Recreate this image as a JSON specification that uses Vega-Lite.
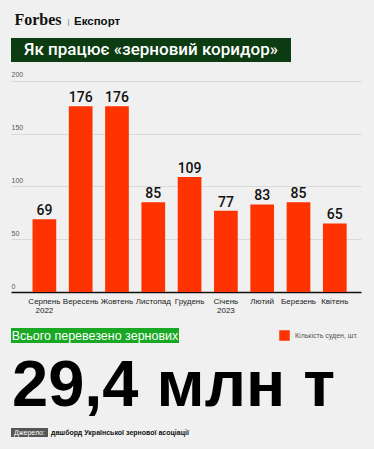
{
  "$schema": "https://vega.github.io/schema/vega-lite/v6.json",
  "background": "#f0f0f0",
  "padding": {"left": 11, "top": 0, "right": 13, "bottom": 12},
  "config": {"view": {"stroke": null}, "font": "Liberation Sans"},
  "spacing": 0,
  "bounds": "full",
  "align": "each",
  "vconcat": [
    {
      "spacing": 0, "bounds": "flush", "align": "each",
      "hconcat": [
        {"width": 54, "height": 38, "data": {"values": [{"t": "Forbes"}]},
         "mark": {"type": "text", "font": "Liberation Serif", "fontWeight": "bold", "fontSize": 16, "baseline": "alphabetic", "dy": 6.3, "color": "#111"},
         "encoding": {"text": {"field": "t"}}},
        {"width": 7, "height": 38, "data": {"values": [{"t": "|"}]},
         "mark": {"type": "text", "fontSize": 8, "baseline": "alphabetic", "dy": 4.5, "color": "#777"},
         "encoding": {"text": {"field": "t"}}},
        {"width": 4, "height": 38, "data": {"values": [{"t": "Експорт"}]},
         "mark": {"type": "text", "fontWeight": "bold", "fontSize": 11.5, "align": "left", "baseline": "alphabetic", "dy": 6.3, "color": "#111"},
         "encoding": {"text": {"field": "t"}}}
      ]
    },
    {
      "width": 280, "height": 24,
      "data": {"values": [{"t": "Як працює «зерновий коридор»"}]},
      "layer": [
        {"mark": {"type": "rect", "color": "#0d3b12"}, "encoding": {}},
        {"mark": {"type": "text", "font": "Roboto", "fontWeight": 500, "fontSize": 17, "baseline": "alphabetic", "dy": 4.7, "color": "#ffffff"},
         "encoding": {"text": {"field": "t"}}}
      ]
    },
    {
      "width": 350, "height": 230,
      "data": {"values": [
        {"month": "Серпень|2022", "count": 69, "series": "Кількість суден, шт."},
        {"month": "Вересень", "count": 176, "series": "Кількість суден, шт."},
        {"month": "Жовтень", "count": 176, "series": "Кількість суден, шт."},
        {"month": "Листопад", "count": 85, "series": "Кількість суден, шт."},
        {"month": "Грудень", "count": 109, "series": "Кількість суден, шт."},
        {"month": "Січень|2023", "count": 77, "series": "Кількість суден, шт."},
        {"month": "Лютий", "count": 83, "series": "Кількість суден, шт."},
        {"month": "Березень", "count": 85, "series": "Кількість суден, шт."},
        {"month": "Квітень", "count": 65, "series": "Кількість суден, шт."}
      ]},
      "encoding": {
        "x": {"field": "month", "type": "nominal", "sort": null,
              "scale": {"paddingInner": 0.347, "paddingOuter": 0.494, "align": 0.6},
              "axis": {"title": null, "labelExpr": "split(datum.label, '|')", "labelAngle": 0, "ticks": false,
                       "domainColor": "#111", "domainWidth": 1.5, "labelFontSize": 8, "labelColor": "#222",
                       "labelPadding": 5, "labelLineHeight": 9}},
        "y": {"field": "count", "type": "quantitative",
              "scale": {"domain": [0, 218], "nice": false},
              "axis": {"title": null, "values": [0, 50, 100, 150, 200], "domain": false, "ticks": false,
                       "labelAlign": "left", "labelBaseline": "alphabetic", "labelPadding": 0, "labelOffset": -4,
                       "gridColor": "#d9d9d9", "labelFontSize": 7, "labelColor": "#555"}}
      },
      "layer": [
        {"mark": {"type": "bar"},
         "encoding": {"color": {"field": "series", "type": "nominal", "scale": {"range": ["#ff3300"]},
                                "legend": {"title": null, "orient": "none", "legendX": 268, "legendY": 330,
                                           "symbolType": "square", "symbolSize": 110, "symbolStrokeWidth": 0,
                                           "labelFontSize": 7, "labelColor": "#555", "labelOffset": 5, "padding": 0}}}},
        {"mark": {"type": "text", "baseline": "alphabetic", "dy": -4, "font": "Roboto", "fontWeight": 500, "fontSize": 14, "color": "#111"},
         "encoding": {"text": {"field": "count"}}}
      ]
    },
    {"width": 1, "height": 14, "data": {"values": [{}]}, "mark": {"type": "text", "text": ""}},
    {
      "width": 168, "height": 15,
      "data": {"values": [{"t": "Всього перевезено зернових"}]},
      "layer": [
        {"mark": {"type": "rect", "color": "#19a824"}, "encoding": {}},
        {"mark": {"type": "text", "fontSize": 12.5, "baseline": "alphabetic", "dy": 4.8, "color": "#ffffff"},
         "encoding": {"text": {"field": "t"}}}
      ]
    },
    {
      "width": 2, "height": 85,
      "data": {"values": [{"t": "29,4 млн т"}]},
      "mark": {"type": "text", "fontWeight": "bold", "fontSize": 65, "align": "left", "baseline": "alphabetic", "dy": 20.2, "color": "#000"},
      "encoding": {"text": {"field": "t"}}
    },
    {
      "spacing": 0, "bounds": "flush", "align": "each",
      "hconcat": [
        {"width": 37, "height": 9, "data": {"values": [{"t": "Джерело:"}]},
         "layer": [
           {"mark": {"type": "rect", "color": "#555555"}, "encoding": {}},
           {"mark": {"type": "text", "fontSize": 7, "baseline": "alphabetic", "dy": 2.5, "color": "#ffffff"},
            "encoding": {"text": {"field": "t"}}}
         ]},
        {"width": 6, "height": 9, "data": {"values": [{"t": "дашборд Української зернової асоціації"}]},
         "mark": {"type": "text", "fontWeight": "bold", "fontSize": 7, "align": "left", "baseline": "alphabetic", "dy": 2.5, "color": "#111"},
         "encoding": {"text": {"field": "t"}}}
      ]
    }
  ]
}
